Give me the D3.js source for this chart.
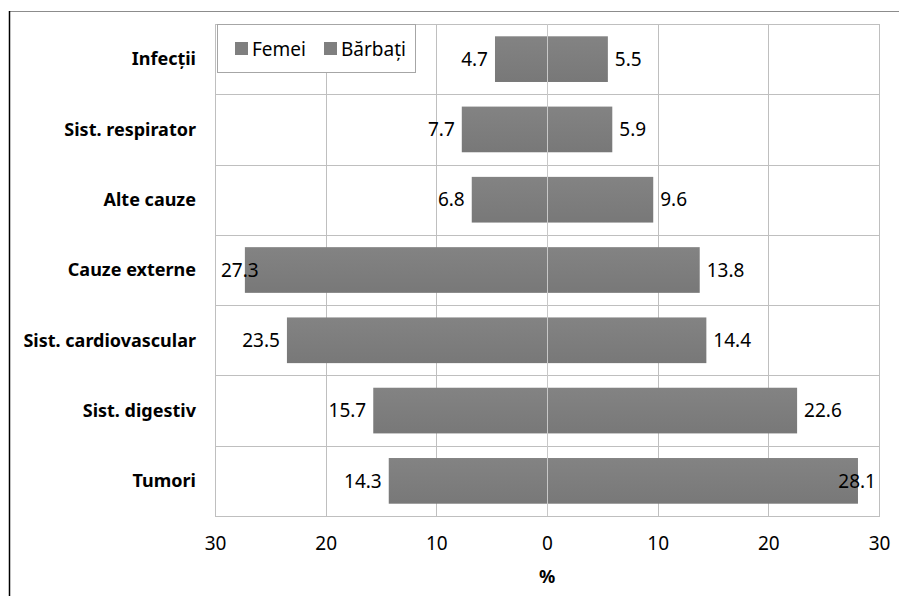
<!DOCTYPE html>
<html>
<head>
<meta charset="utf-8">
<script src="https://cdn.jsdelivr.net/npm/d3@7"></script>
<style>
  body { margin: 0; background: #fff; }
  text { font-family: "Noto Sans", "Open Sans", sans-serif; }
</style>
</head>
<body>
<div id="chart"></div>
<script>
// data (top to bottom)
var categories = ["Infecții", "Sist. respirator", "Alte cauze", "Cauze externe", "Sist. cardiovascular", "Sist. digestiv", "Tumori"];
var femei = [4.7, 7.7, 6.8, 27.3, 23.5, 15.7, 14.3];
var barbati = [5.5, 5.9, 9.6, 13.8, 14.4, 22.6, 28.1];
var xTicks = [-30, -20, -10, 0, 10, 20, 30];
var seriesNames = ["Femei", "Bărbați"];

var width = 899, height = 596;
var margin = { top: 24, right: 20, bottom: 80, left: 215 };
var innerW = width - margin.left - margin.right,
    innerH = height - margin.top - margin.bottom;

var svg = d3.select("#chart").append("svg")
    .attr("width", width)
    .attr("height", height);

// outer chart frame
svg.append("rect")
    .attr("x", 9.5).attr("y", 11.5)
    .attr("width", width + 20).attr("height", height + 20)
    .style("fill", "none").style("stroke", "#8c8c8c").style("stroke-width", 1);
svg.append("line")
    .attr("x1", 9.5).attr("x2", 9.5).attr("y1", 11).attr("y2", height)
    .style("stroke", "#000").style("stroke-width", 1.5);

var g = svg.append("g")
    .attr("transform", "translate(" + margin.left + "," + margin.top + ")");

var x = d3.scaleLinear().domain([-30, 30]).range([0, innerW]);
var y = d3.scaleBand().domain(categories).range([0, innerH]).paddingInner(0.35).paddingOuter(0.175);
var rowY = d3.scaleBand().domain(categories).range([0, innerH]);

// grid lines
g.selectAll(".vgrid")
    .data(xTicks)
    .enter().append("line")
    .attr("x1", function (d) { return Math.round(x(d)) + 0.5; })
    .attr("x2", function (d) { return Math.round(x(d)) + 0.5; })
    .attr("y1", 0).attr("y2", innerH)
    .style("stroke", "#bfbfbf");

g.selectAll(".hgrid")
    .data(categories)
    .enter().append("line")
    .attr("x1", 0).attr("x2", innerW)
    .attr("y1", function (d) { return Math.round(rowY(d)) + 0.5; })
    .attr("y2", function (d) { return Math.round(rowY(d)) + 0.5; })
    .style("stroke", "#bfbfbf");

g.append("rect")
    .attr("x", 0.5).attr("y", 0.5)
    .attr("width", innerW).attr("height", innerH)
    .style("fill", "none").style("stroke", "#bfbfbf");

// bar gradient
var defs = svg.append("defs");
var grad = defs.append("linearGradient").attr("id", "barGrad")
    .attr("x1", 0).attr("x2", 0).attr("y1", 0).attr("y2", 1);
grad.append("stop").attr("offset", "0%").attr("stop-color", "#838383");
grad.append("stop").attr("offset", "100%").attr("stop-color", "#787878");

// Femei bars (left)
g.selectAll(".bar-f")
    .data(categories)
    .enter().append("rect")
    .attr("x", function (d, i) { return x(-femei[i]); })
    .attr("y", function (d) { return y(d); })
    .attr("width", function (d, i) { return x(0) - x(-femei[i]); })
    .attr("height", y.bandwidth())
    .style("fill", "url(#barGrad)");

// Bărbați bars (right)
g.selectAll(".bar-b")
    .data(categories)
    .enter().append("rect")
    .attr("x", x(0))
    .attr("y", function (d) { return y(d); })
    .attr("width", function (d, i) { return x(barbati[i]) - x(0); })
    .attr("height", y.bandwidth())
    .style("fill", "url(#barGrad)");

// zero line over bars
g.append("line")
    .attr("x1", Math.round(x(0)) + 0.5).attr("x2", Math.round(x(0)) + 0.5)
    .attr("y1", 0).attr("y2", innerH)
    .style("stroke", "#c8c8c8");

// value labels, kept inside the plot area
var fs = 19;
g.selectAll(".lab-f")
    .data(categories)
    .enter().append("text")
    .attr("y", function (d) { return y(d) + y.bandwidth() / 2; })
    .attr("dy", "0.35em")
    .style("font-size", fs + "px")
    .style("fill", "#000")
    .text(function (d, i) { return femei[i].toFixed(1); })
    .each(function (d, i) {
        var w = this.getComputedTextLength();
        var xe = x(-femei[i]) - 7;
        if (xe - w < 6) xe = 6 + w;
        d3.select(this).attr("x", xe - w);
    });

g.selectAll(".lab-b")
    .data(categories)
    .enter().append("text")
    .attr("y", function (d) { return y(d) + y.bandwidth() / 2; })
    .attr("dy", "0.35em")
    .style("font-size", fs + "px")
    .style("fill", "#000")
    .text(function (d, i) { return barbati[i].toFixed(1); })
    .each(function (d, i) {
        var w = this.getComputedTextLength();
        var xs = x(barbati[i]) + 7;
        if (xs + w > innerW - 3) xs = innerW - 3 - w;
        d3.select(this).attr("x", xs);
    });

// category labels
g.selectAll(".cat")
    .data(categories)
    .enter().append("text")
    .attr("x", -19)
    .attr("y", function (d) { return rowY(d) + rowY.bandwidth() / 2; })
    .attr("dy", "0.35em")
    .attr("text-anchor", "end")
    .style("font-size", "18px")
    .style("font-weight", "bold")
    .style("fill", "#000")
    .text(function (d) { return d; });

// x axis
var xAxis = g.append("g")
    .attr("transform", "translate(0," + innerH + ")")
    .call(d3.axisBottom(x).tickValues(xTicks).tickSize(0).tickPadding(21)
        .tickFormat(function (d) { return Math.abs(d); }));
xAxis.select(".domain").remove();
xAxis.selectAll("text")
    .style("font-family", "'Noto Sans', sans-serif")
    .style("font-size", fs + "px")
    .style("fill", "#000");

g.append("text")
    .attr("x", x(0))
    .attr("y", innerH + 67)
    .attr("text-anchor", "middle")
    .style("font-size", "18px")
    .style("font-weight", "bold")
    .text("%");

// legend
var legend = g.append("g").attr("transform", "translate(2,0)");
legend.append("rect")
    .attr("x", 0.5).attr("y", 0.5)
    .attr("width", 198).attr("height", 48)
    .style("fill", "#fff").style("stroke", "#a6a6a6");
var legendX = [18, 107];
seriesNames.forEach(function (name, i) {
    legend.append("rect")
        .attr("x", legendX[i]).attr("y", 18)
        .attr("width", 13).attr("height", 13)
        .style("fill", "#7f7f7f");
    legend.append("text")
        .attr("x", legendX[i] + 17).attr("y", 25)
        .attr("dy", "0.35em")
        .style("font-size", fs + "px")
        .text(name);
});
</script>
</body>
</html>
